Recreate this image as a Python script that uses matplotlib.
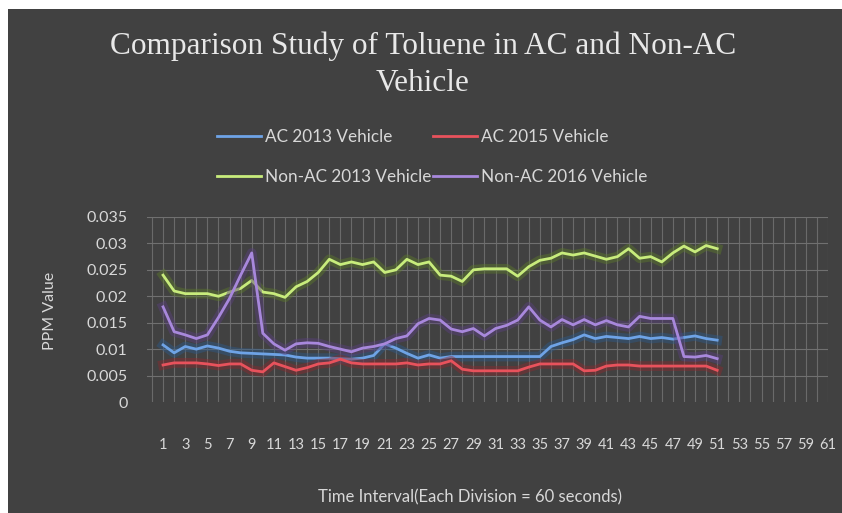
import matplotlib
matplotlib.use("Agg")
import matplotlib.pyplot as plt
import matplotlib.patheffects as pe
from matplotlib.patches import Rectangle
import numpy as np

# data (one value per minute, categories 1..51)
ac_2013 = [0.0108, 0.0093, 0.0105, 0.0100, 0.0106, 0.0102, 0.0096, 0.0093, 0.0092, 0.0091,
           0.0090, 0.0089, 0.0085, 0.0083, 0.0083, 0.0083, 0.0082, 0.0081, 0.0083, 0.0088,
           0.0110, 0.0102, 0.0092, 0.0083, 0.0089, 0.0083, 0.0086, 0.0086, 0.0086, 0.0086,
           0.0086, 0.0086, 0.0086, 0.0086, 0.0086, 0.0105, 0.0112, 0.0118, 0.0127, 0.0120,
           0.0124, 0.0122, 0.0120, 0.0124, 0.0120, 0.0122, 0.0119, 0.0122, 0.0125, 0.0120,
           0.0117]
ac_2015 = [0.0070, 0.0074, 0.0074, 0.0074, 0.0072, 0.0069, 0.0072, 0.0072, 0.0060, 0.0057,
           0.0074, 0.0067, 0.0060, 0.0065, 0.0072, 0.0074, 0.0081, 0.0074, 0.0072, 0.0072,
           0.0072, 0.0072, 0.0074, 0.0070, 0.0072, 0.0072, 0.0078, 0.0062, 0.0059, 0.0059,
           0.0059, 0.0059, 0.0059, 0.0066, 0.0072, 0.0072, 0.0072, 0.0072, 0.0059, 0.0060,
           0.0068, 0.0070, 0.0070, 0.0068, 0.0068, 0.0068, 0.0068, 0.0068, 0.0068, 0.0068,
           0.0060]
nonac_2013 = [0.0240, 0.0210, 0.0205, 0.0205, 0.0205, 0.0200, 0.0208, 0.0215, 0.0230, 0.0208,
              0.0205, 0.0198, 0.0218, 0.0228, 0.0245, 0.0270, 0.0260, 0.0265, 0.0260, 0.0265,
              0.0245, 0.0250, 0.0270, 0.0260, 0.0265, 0.0240, 0.0238, 0.0228, 0.0250, 0.0252,
              0.0252, 0.0252, 0.0238, 0.0256, 0.0268, 0.0272, 0.0282, 0.0278, 0.0282, 0.0276,
              0.0270, 0.0275, 0.0290, 0.0272, 0.0275, 0.0265, 0.0282, 0.0295, 0.0284, 0.0296,
              0.0290]
nonac_2016 = [0.0180, 0.0133, 0.0127, 0.0120, 0.0127, 0.0160, 0.0196, 0.0240, 0.0282, 0.0130,
              0.0110, 0.0098, 0.0110, 0.0112, 0.0111, 0.0105, 0.0100, 0.0095, 0.0102, 0.0105,
              0.0110, 0.0120, 0.0125, 0.0148, 0.0158, 0.0155, 0.0138, 0.0133, 0.0139, 0.0125,
              0.0139, 0.0145, 0.0155, 0.0180, 0.0155, 0.0142, 0.0156, 0.0146, 0.0156, 0.0146,
              0.0154, 0.0146, 0.0142, 0.0162, 0.0158, 0.0158, 0.0158, 0.0086, 0.0085, 0.0088,
              0.0082]
labels = ["AC 2013 Vehicle", "AC 2015 Vehicle", "Non-AC 2013 Vehicle", "Non-AC 2016 Vehicle"]
colors = ["#6ea3e6", "#e8525c", "#c8ec7c", "#a888dc"]
glow = ["#2c5a8c", "#8c2a2e", "#5c7a2a", "#5a4080"]
n_categories = 61
y_ticks = [0, 0.005, 0.01, 0.015, 0.02, 0.025, 0.03, 0.035]

bg = "#414141"
txt = "#d8d8d8"

fig = plt.figure(figsize=(8.42, 5.13), dpi=100, facecolor="white")
# dark chart area with a thin white margin top and left
fig.patches.append(Rectangle((8 / 842, 0), 1, 1 - 9 / 513, transform=fig.transFigure,
                             facecolor=bg, edgecolor="none", zorder=-5))

ax = fig.add_axes([147 / 842, 1 - 402 / 513, 681 / 842, 185 / 513])
ax.set_facecolor(bg)

x = np.arange(1, len(ac_2013) + 1)
series = [ac_2013, ac_2015, nonac_2013, nonac_2016]
handles = []
for vals, lab, c, g in zip(series, labels, colors, glow):
    h, = ax.plot(x, vals, color=c, lw=2.0, label=lab, solid_joinstyle="round",
                 path_effects=[pe.Stroke(linewidth=7, foreground=g, alpha=0.45), pe.Normal()])
    handles.append(h)

ax.set_xlim(-0.45, n_categories)
ax.set_ylim(0, 0.035)
ax.set_yticks(y_ticks)
ax.set_yticklabels(["0" if v == 0 else f"{v:g}" for v in y_ticks])
ax.set_xticks(np.arange(1, n_categories + 1, 2))
ax.set_xticklabels([str(i) for i in range(1, n_categories + 1, 2)])

# gridlines: one vertical per category, horizontal every 0.005
for i in range(0, n_categories + 1):
    ax.axvline(i, color="#6a6a6a", lw=0.8, zorder=0.5)
for v in y_ticks[1:]:
    ax.axhline(v, color="#707070", lw=0.8, zorder=0.5)

for s in ax.spines.values():
    s.set_visible(False)
ax.tick_params(length=0, colors=txt)
for t in ax.get_yticklabels():
    t.set_fontsize(11.5)
    t.set_family("Lato")
for t in ax.get_xticklabels():
    t.set_fontsize(10.5)
    t.set_family("Lato")
ax.tick_params(axis="y", pad=14)
ax.tick_params(axis="x", pad=26)

fig.text(50 / 842, 1 - 311 / 513, "PPM Value", rotation=90, ha="center", va="center",
         color=txt, fontsize=11.5, family="Lato")
fig.text(470 / 842, 1 - 497 / 513, "Time Interval(Each Division = 60 seconds)", ha="center",
         va="center", color=txt, fontsize=12, family="Lato")

fig.text(423 / 842, 1 - 65 / 513, "Comparison Study of Toluene in AC and Non-AC\nVehicle",
         ha="center", va="center", color="#e8e8e8", fontsize=22.5, family="Liberation Serif",
         linespacing=1.35)

# legend fills column by column, so order handles to get AC rows on top
order = [0, 2, 1, 3]
leg = fig.legend(handles=[handles[i] for i in order], loc="center",
                 bbox_to_anchor=(432 / 842, 1 - 157 / 513),
                 ncol=2, frameon=False, handlelength=2.6, handletextpad=0.2,
                 columnspacing=0.1, labelspacing=1.45, prop={"family": "Lato", "size": 12.3})
for t in leg.get_texts():
    t.set_color(txt)
for lh in leg.get_lines():
    lh.set_path_effects([])

fig.savefig("out.png", dpi=100, facecolor=fig.get_facecolor())
